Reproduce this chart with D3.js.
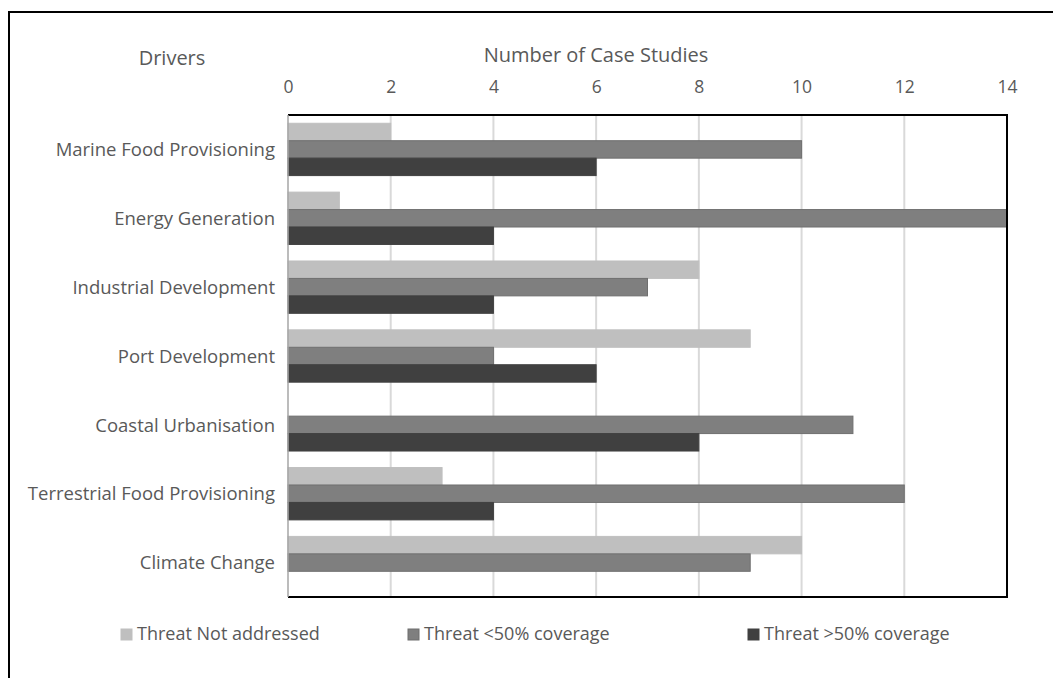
<!DOCTYPE html>
<html><head><meta charset="utf-8">
<script src="https://cdn.jsdelivr.net/npm/d3@7"></script>
<style>
body{margin:0;background:#fff;}
text{font-family:"Open Sans",sans-serif;fill:#595959;}
</style></head>
<body><svg id="c" width="1053" height="678"></svg>
<script>
const categories = ["Marine Food Provisioning","Energy Generation","Industrial Development","Port Development","Coastal Urbanisation","Terrestrial Food Provisioning","Climate Change"];
const seriesNames = ["Threat Not addressed","Threat <50% coverage","Threat >50% coverage"];
const notAddressed = [2,1,8,9,0,3,10];
const under50 = [10,14,7,4,11,12,9];
const over50 = [6,4,4,6,8,4,0];
const xTicks = [0,2,4,6,8,10,12,14];
const colors = ["#bfbfbf","#7f7f7f","#404040"];
const strokes = ["#bfbfbf","#6f6f6f","#404040"];

const svg = d3.select("#c");
const L=288, R=1007, T=115, B=597;
const x = d3.scaleLinear().domain([0,14]).range([L,R]);
const y = d3.scaleBand().domain(categories).range([T,B]).paddingInner(0.24).paddingOuter(0.12);
const series = [notAddressed, under50, over50];
const ys = d3.scaleBand().domain([0,1,2]).range([0,y.bandwidth()]);

// outer frame (only top/left visible)
svg.append("line").attr("x1",9).attr("x2",1053).attr("y1",12).attr("y2",12).attr("stroke","#000").attr("stroke-width",2);
svg.append("line").attr("x1",9).attr("x2",9).attr("y1",11).attr("y2",678).attr("stroke","#000").attr("stroke-width",2);

// gridlines
svg.append("g").selectAll("line").data(xTicks.slice(1,-1)).join("line")
  .attr("x1",d=>x(d)).attr("x2",d=>x(d)).attr("y1",T).attr("y2",B)
  .attr("stroke","#d9d9d9").attr("stroke-width",2);

// bars
series.forEach((vals,si)=>{
  svg.append("g").selectAll("rect").data(categories).join("rect")
    .attr("x",x(0)).attr("y",(c)=>y(c)+ys(si))
    .attr("width",(c,i)=>x(vals[i])-x(0)).attr("height",ys.bandwidth())
    .attr("fill",colors[si]).attr("stroke",strokes[si]).attr("stroke-width",1);
});

// plot border
svg.append("line").attr("x1",L).attr("x2",R+1).attr("y1",T).attr("y2",T).attr("stroke","#000").attr("stroke-width",2);
svg.append("line").attr("x1",R).attr("x2",R).attr("y1",T).attr("y2",B).attr("stroke","#000").attr("stroke-width",2);
svg.append("line").attr("x1",L).attr("x2",R+1).attr("y1",B).attr("y2",B).attr("stroke","#000").attr("stroke-width",2);
svg.append("line").attr("x1",L).attr("x2",L).attr("y1",T).attr("y2",B).attr("stroke","#a6a6a6").attr("stroke-width",1.5);

// x tick labels (top)
const xAxis = d3.axisTop(x).tickValues(xTicks).tickSize(0).tickPadding(0);
const gx = svg.append("g").attr("transform",`translate(0,${T-22})`).call(xAxis);
gx.select(".domain").remove();
gx.selectAll("text").style("font-size","17.5px").style("font-family","'Open Sans',sans-serif").attr("fill","#595959").attr("dy","0");

// category labels
const yAxis = d3.axisLeft(y).tickSize(0).tickPadding(0);
const gy = svg.append("g").attr("transform",`translate(${L-13},0)`).call(yAxis);
gy.select(".domain").remove();
gy.selectAll("text").style("font-size","18.5px").style("font-family","'Open Sans',sans-serif").attr("fill","#595959").attr("dy","0.36em");

// titles
svg.append("text").attr("x",596).attr("y",62).attr("text-anchor","middle").style("font-size","20px").text("Number of Case Studies");
svg.append("text").attr("x",172).attr("y",65).attr("text-anchor","middle").style("font-size","20px").text("Drivers");

// legend
const legX = [121, 408, 748];
const lg = svg.append("g").selectAll("g").data(seriesNames).join("g").attr("transform",(d,i)=>`translate(${legX[i]},629)`);
lg.append("rect").attr("width",11).attr("height",11).attr("fill",(d,i)=>colors[i]).attr("stroke",(d,i)=>strokes[i]);
lg.append("text").attr("x",16).attr("y",11).style("font-size","18px").text(d=>d);
</script></body></html>
